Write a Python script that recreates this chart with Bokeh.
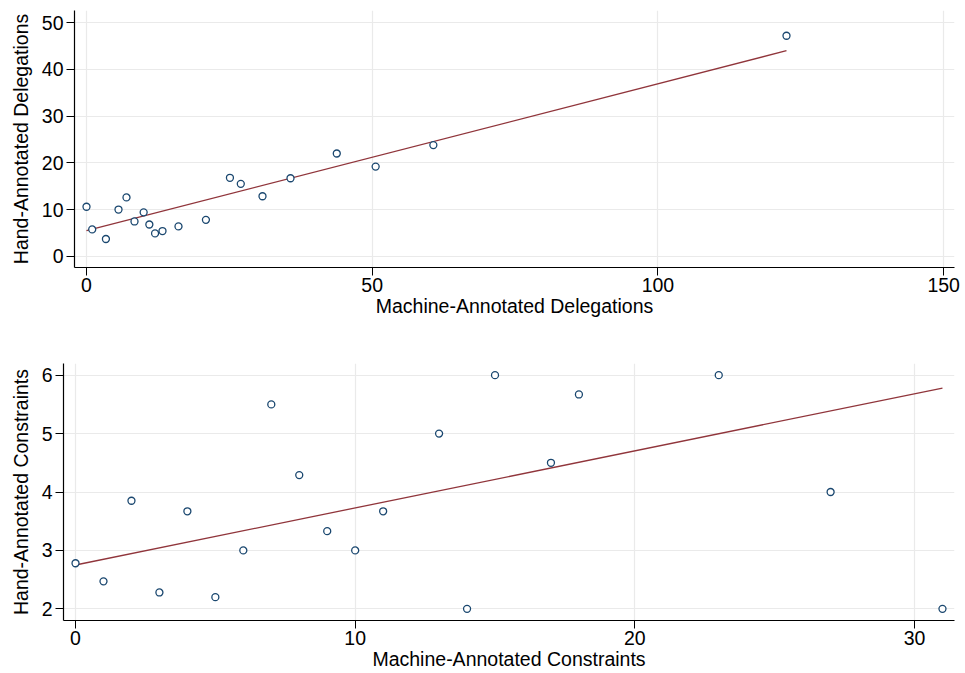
from bokeh.plotting import figure
from bokeh.models import Range1d, FixedTicker
from bokeh.embed import file_html
from bokeh.resources import INLINE

# ---- Data: delegations ----
deleg_machine = [0, 1.0, 3.4, 5.6, 7.0, 8.4, 10.0, 11.0, 12.0, 13.3, 16.1, 20.9,
                 25.1, 27.0, 30.8, 35.7, 43.8, 50.6, 60.7, 122.5]
deleg_hand = [10.6, 5.75, 3.7, 10.0, 12.6, 7.45, 9.4, 6.8, 4.9, 5.4, 6.4, 7.8,
              16.8, 15.5, 12.85, 16.7, 22.0, 19.2, 23.8, 47.2]
deleg_fit_x = [0, 122.5]
deleg_fit_y = [5.47, 44.0]
deleg_xticks = [0, 50, 100, 150]
deleg_yticks = [0, 10, 20, 30, 40, 50]

# ---- Data: constraints ----
cons_machine = [0, 1, 2, 3, 4, 5, 6, 7, 8, 9, 10, 11, 13, 14, 15, 17, 18, 23, 27, 31]
cons_hand = [2.78, 2.47, 3.85, 2.28, 3.67, 2.20, 3.0, 5.5, 4.29, 3.33, 3.0, 3.67,
             5.0, 2.0, 6.0, 4.5, 5.67, 6.0, 4.0, 2.0]
cons_fit_x = [0, 31]
cons_fit_y = [2.75, 5.78]
cons_xticks = [0, 10, 20, 30]
cons_yticks = [2, 3, 4, 5, 6]

FONT = "Liberation Sans"
MARKER = "#1a476f"
LINE = "#90353b"
GRID = "#eaeaea"
FS = "19.5px"


def style(p, xticks, yticks, xlabel, ylabel):
    p.xaxis.ticker = FixedTicker(ticks=xticks)
    p.yaxis.ticker = FixedTicker(ticks=yticks)
    p.xaxis.axis_label = xlabel
    p.yaxis.axis_label = ylabel
    for ax in (p.xaxis[0], p.yaxis[0]):
        ax.axis_label_text_font = FONT
        ax.axis_label_text_font_style = "normal"
        ax.axis_label_text_font_size = FS
        ax.axis_label_text_color = "black"
        ax.major_label_text_font = FONT
        ax.major_label_text_font_size = FS
        ax.major_label_text_color = "black"
        ax.axis_line_color = "black"
        ax.axis_line_width = 1.2
        ax.major_tick_line_color = "black"
        ax.major_tick_out = 8
        ax.major_tick_in = 0
        ax.minor_tick_line_color = None
    p.xaxis.major_label_standoff = 2
    p.xaxis.axis_label_standoff = 0
    p.yaxis.major_label_standoff = 3
    p.yaxis.axis_label_standoff = 7
    p.yaxis.major_label_orientation = "horizontal"
    p.xgrid.grid_line_color = GRID
    p.ygrid.grid_line_color = GRID
    p.xgrid.grid_line_width = 1.2
    p.ygrid.grid_line_width = 1.2
    p.outline_line_color = None
    p.background_fill_color = "white"
    p.border_fill_color = "white"


p1 = figure(width=960, height=336, output_backend="svg", toolbar_location=None,
            x_range=Range1d(-2.1, 151.9), y_range=Range1d(-2.4, 52.6),
            min_border_left=74, min_border_right=6, min_border_top=10, min_border_bottom=69)
style(p1, deleg_xticks, deleg_yticks, "Machine-Annotated Delegations", "Hand-Annotated Delegations")
p1.line(deleg_fit_x, deleg_fit_y, line_color=LINE, line_width=1.3)
p1.scatter(deleg_machine, deleg_hand, marker="circle", size=7, fill_color="white",
           line_color=MARKER, line_width=1.3)

p2 = figure(width=960, height=336, output_backend="svg", toolbar_location=None,
            x_range=Range1d(-0.43, 31.43), y_range=Range1d(1.8, 6.2),
            min_border_left=63, min_border_right=6, min_border_top=27, min_border_bottom=51)
style(p2, cons_xticks, cons_yticks, "Machine-Annotated Constraints", "Hand-Annotated Constraints")
p2.line(cons_fit_x, cons_fit_y, line_color=LINE, line_width=1.3)
p2.scatter(cons_machine, cons_hand, marker="circle", size=7, fill_color="white",
           line_color=MARKER, line_width=1.3)

open("out.html", "w").write(file_html([p1, p2], INLINE))
